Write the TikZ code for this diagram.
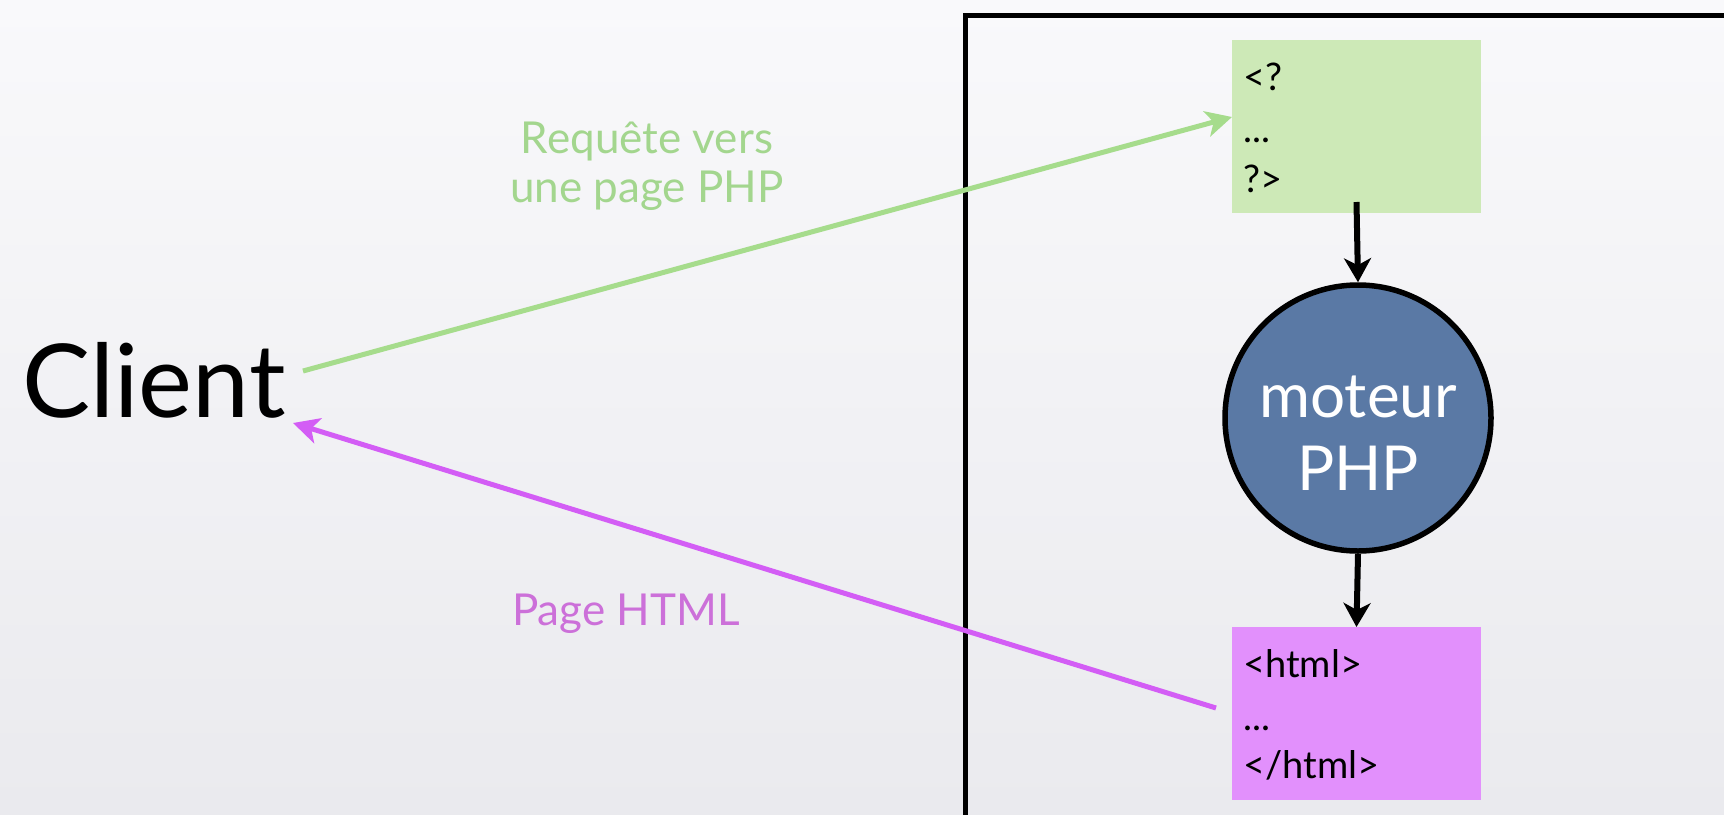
\documentclass[tikz,border=0pt]{standalone}
\usepackage{fontspec}
\setmainfont{Lato}
\usetikzlibrary{arrows.meta,calc}
\definecolor{bgtop}{HTML}{F9F9FB}
\definecolor{bgbot}{HTML}{EAEAEE}
\definecolor{reqgreen}{HTML}{A6DC8C}
\definecolor{reqtext}{HTML}{A3D68E}
\definecolor{phpfill}{HTML}{CDE9B7}
\definecolor{htmlfill}{HTML}{E290FC}
\definecolor{resppink}{HTML}{D35DF5}
\definecolor{resptext}{HTML}{CC70D9}
\definecolor{enginefill}{HTML}{5A79A5}
\tikzset{
  codebox/.style={rectangle, draw=none, minimum width=249pt, minimum height=173pt, inner sep=0pt, outer sep=0pt, anchor=north west},
  codetext/.style={anchor=base west, inner sep=0pt, font=\fontsize{38}{44}\selectfont, text=black},
  flow/.style={line width=6pt, draw=black, -{Stealth[length=24pt,width=27pt,inset=7pt]}},
  reqarrow/.style={line width=5pt, draw=reqgreen, -{Stealth[length=26pt,width=26pt,inset=7pt]}},
  resparrow/.style={line width=5pt, draw=resppink, -{Stealth[length=26pt,width=26pt,inset=7pt]}},
  lbl/.style={anchor=base, inner sep=0pt},
}
\begin{document}
\begin{tikzpicture}[x=1pt,y=-1pt]
\useasboundingbox (0,0) rectangle (1724,814);
\shade[top color=bgtop, bottom color=bgbot] (0,0) rectangle (1724,814);
% server frame
\draw[line width=5pt] (1740,15) -- (965.5,15) -- (965.5,830);
% client
\node[anchor=base west, inner sep=0pt, font=\fontsize{102}{120}\selectfont] (client) at (22,417) {Client};
% php source box
\node[codebox, fill=phpfill] (php) at (1232,40) {};
\node[codetext] (php1) at (1243,90) {<?};
\node[codetext] (php2) at (1243,142) {...};
\node[codetext] (php3) at (1243,192) {?>};
% engine
\node[circle, draw=black, line width=5.5pt, fill=enginefill, minimum size=266pt, inner sep=0pt] (engine) at (1358,418) {};
\node[lbl, text=white, font=\fontsize{62}{70}\selectfont] (eng1) at (1358,417) {moteur};
\node[lbl, text=white, font=\fontsize{62}{70}\selectfont] (eng2) at (1358,490) {PHP};
% html box
\node[codebox, fill=htmlfill] (html) at (1232,627) {};
\node[codetext] (html1) at (1243,677) {<html>};
\node[codetext] (html2) at (1243,730) {...};
\node[codetext] (html3) at (1243,778) {</html>};
% vertical flow
\draw[flow] ([yshift=11pt]php.south) -- (engine.north);
\draw[flow] (engine.south) -- (html.north);
% request / response
\coordinate (reqstart) at (303,371);
\coordinate (respend) at (293,423);
\draw[reqarrow] (reqstart) -- ([yshift=9.5pt]php.west);
\draw[resparrow] ([xshift=-16pt,yshift=5.5pt]html.west) -- (respend);
% labels
\node[lbl, text=reqtext, font=\fontsize{44}{50}\selectfont] (req1) at (647,153) {Requête vers};
\node[lbl, text=reqtext, font=\fontsize{44}{50}\selectfont] (req2) at (647,202) {une page PHP};
\node[lbl, text=resptext, font=\fontsize{44}{50}\selectfont] (resp) at (626,625) {Page HTML};
\end{tikzpicture}
\end{document}
